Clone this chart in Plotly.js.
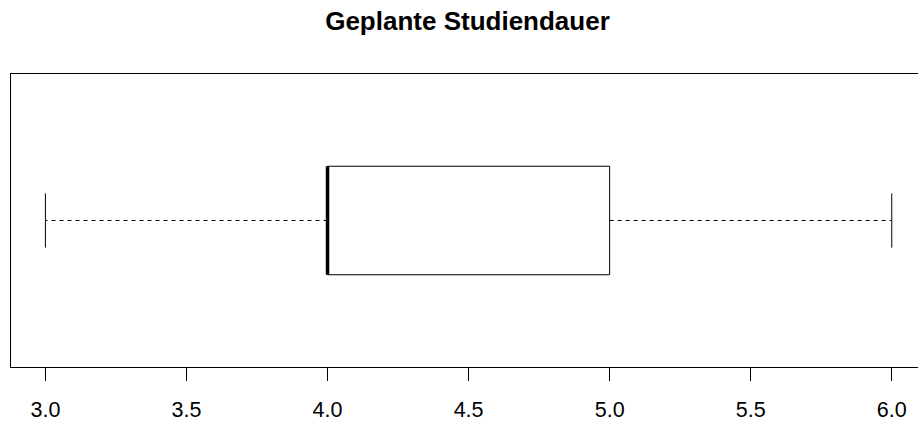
<!DOCTYPE html>
<html>
<head>
<meta charset="utf-8">
<script src="https://cdn.plot.ly/plotly-3.0.1.min.js"></script>
<style>html,body{margin:0;padding:0;background:#fff;overflow:hidden}</style>
</head>
<body>
<div id="chart" style="width:918px;height:423px"></div>
<script>
// Five-number summary of "Geplante Studiendauer"
const lowerWhisker = [3];
const q1 = [4];
const median = [4];
const q3 = [5];
const upperWhisker = [6];
const tickValues = [3.0, 3.5, 4.0, 4.5, 5.0, 5.5, 6.0];
const tickLabels = ["3.0", "3.5", "4.0", "4.5", "5.0", "5.5", "6.0"];

const center = 1, halfBox = 0.2, halfCap = 0.1;
const traces = [];
const black = '#000';
for (let i = 0; i < q1.length; i++) {
  // whiskers (dashed)
  traces.push({x:[q1[i], lowerWhisker[i]], y:[center, center], mode:'lines', line:{color:black, width:1, dash:'4px,4px'}, hoverinfo:'skip'});
  traces.push({x:[q3[i], upperWhisker[i]], y:[center, center], mode:'lines', line:{color:black, width:1, dash:'4px,4px'}, hoverinfo:'skip'});
  // staples
  traces.push({x:[lowerWhisker[i], lowerWhisker[i]], y:[center-halfCap, center+halfCap], mode:'lines', line:{color:black, width:1}, hoverinfo:'skip'});
  traces.push({x:[upperWhisker[i], upperWhisker[i]], y:[center-halfCap, center+halfCap], mode:'lines', line:{color:black, width:1}, hoverinfo:'skip'});
  // box
  traces.push({x:[q1[i], q3[i], q3[i], q1[i], q1[i]], y:[center-halfBox, center-halfBox, center+halfBox, center+halfBox, center-halfBox], mode:'lines', fill:'toself', fillcolor:'#fff', line:{color:black, width:1}, hoverinfo:'skip'});
  // median
  traces.push({x:[median[i], median[i]], y:[center-halfBox, center+halfBox], mode:'lines', line:{color:black, width:3.5}, hoverinfo:'skip'});
}

const layout = {
  width: 918, height: 423,
  margin: {l: 11, r: 0, t: 74, b: 56},
  paper_bgcolor: '#fff', plot_bgcolor: '#fff',
  showlegend: false,
  font: {family: '"Liberation Sans", Arial, sans-serif', color: '#000', size: 21.5},
  title: {text: '<b>Geplante Studiendauer</b>', font: {size: 26, family: '"Liberation Sans", Arial, sans-serif', color: '#000'}, xref: 'container', x: 467.5/918, xanchor: 'center', yref: 'container', y: 1 - 21/423, yanchor: 'middle'},
  xaxis: {
    range: [2.878, 6.093], showgrid: false, zeroline: false,
    showline: true, linecolor: '#000', linewidth: 1, mirror: true,
    tickmode: 'array', tickvals: tickValues, ticktext: tickLabels,
    ticks: 'outside', ticklen: 13, tickwidth: 1, tickcolor: '#000',
    ticklabelstandoff: 10,
    tickfont: {size: 21.5, color: '#000'}
  },
  yaxis: {
    range: [0.46, 1.54], showgrid: false, zeroline: false,
    showline: true, linecolor: '#000', linewidth: 1,
    showticklabels: false, ticks: ''
  }
};
Plotly.newPlot('chart', traces, layout, {displayModeBar: false, staticPlot: true});
</script>
</body>
</html>
